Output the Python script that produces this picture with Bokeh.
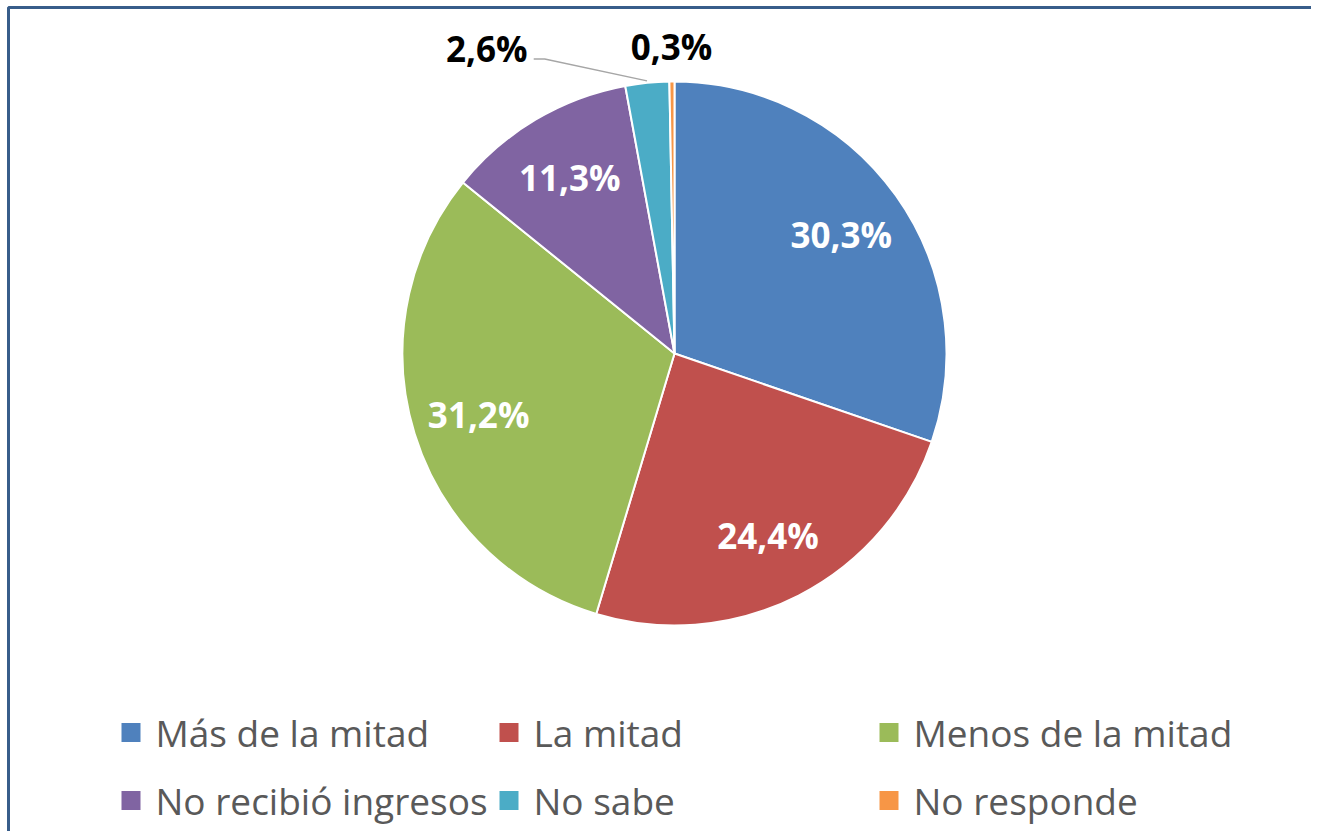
import math
from bokeh.plotting import figure
from bokeh.models import Range1d, ColumnDataSource
from bokeh.core.properties import value
from bokeh.embed import file_html
from bokeh.resources import INLINE

# ---- data ----
categories = ["Más de la mitad", "La mitad", "Menos de la mitad",
              "No recibió ingresos", "No sabe", "No responde"]
percent = [30.3, 24.4, 31.2, 11.3, 2.6, 0.3]
labels = ["30,3%", "24,4%", "31,2%", "11,3%", "2,6%", "0,3%"]
colors = ["#4F81BD", "#C0504D", "#9BBB59", "#8064A2", "#4BACC6", "#F79646"]

# ---- layout (image pixel coordinates; y measured from top) ----
W, H = 1311, 831
IMG_H = 839
def Y(py):
    return IMG_H - py

cx, cy = 674, Y(353)
R = 272

p = figure(width=W, height=H, output_backend="svg", toolbar_location=None,
           x_range=Range1d(0, W), y_range=Range1d(IMG_H - H, IMG_H),
           min_border=0, outline_line_color=None)
p.axis.visible = False
p.grid.visible = False
p.background_fill_color = "white"
p.border_fill_color = "white"

total = sum(percent)
starts, ends, mids = [], [], []
cum = 0.0
for v in percent:
    a0 = math.pi / 2 - 2 * math.pi * cum / total
    cum += v
    a1 = math.pi / 2 - 2 * math.pi * cum / total
    starts.append(a0); ends.append(a1); mids.append((a0 + a1) / 2)

src = ColumnDataSource(dict(start=starts, end=ends, color=colors))
p.wedge(x=cx, y=cy, radius=R, start_angle="start", end_angle="end",
        direction="clock", fill_color="color", line_color="white",
        line_width=2, source=src)

# data labels
inside_r = 205
outside_r = 307
lx, ly, lcol = [], [], []
for i, m in enumerate(mids):
    if percent[i] < 5:
        r = outside_r
        dx = -157 if i == 4 else 0
        lx.append(cx + r * math.cos(m) + dx); ly.append(cy + r * math.sin(m))
        lcol.append("black")
    else:
        lx.append(cx + inside_r * math.cos(m)); ly.append(cy + inside_r * math.sin(m))
        lcol.append("white")
p.text(x=lx, y=ly, text=labels, text_color=lcol, text_align="center",
       text_baseline="middle", text_font=value("Open Sans"),
       text_font_style="bold", text_font_size="35px")

# leader line for 2,6%
m = mids[4]
ex, ey = cx + (R + 2) * math.cos(m), cy + (R + 2) * math.sin(m)
sx = lx[4] + 47
p.line(x=[sx, sx + 11, ex], y=[ly[4] - 11, ly[4] - 11, ey],
       line_color="#A6A6A6", line_width=1.5)

# legend (manual grid)
col_x = [155, 533, 913]
row_y = [Y(732), Y(800)]
sq_x, sq_y, tx, ty = [], [], [], []
for i, c in enumerate(categories):
    col, row = i % 3, i // 3
    sq_x.append(col_x[col] - 24.5); sq_y.append(row_y[row])
    tx.append(col_x[col]); ty.append(row_y[row])
p.rect(x=sq_x, y=sq_y, width=19, height=19, fill_color=colors, line_color=None)
p.text(x=tx, y=ty, text=categories, text_color="#595959", text_align="left",
       text_baseline="middle", text_font=value("Open Sans"),
       text_font_size="37px")

# chart border (top and left visible)
p.line(x=[8, 8, W + 20], y=[0, Y(7), Y(7)], line_color="#385D8A", line_width=3)

open("out.html", "w").write(file_html(p, INLINE))
